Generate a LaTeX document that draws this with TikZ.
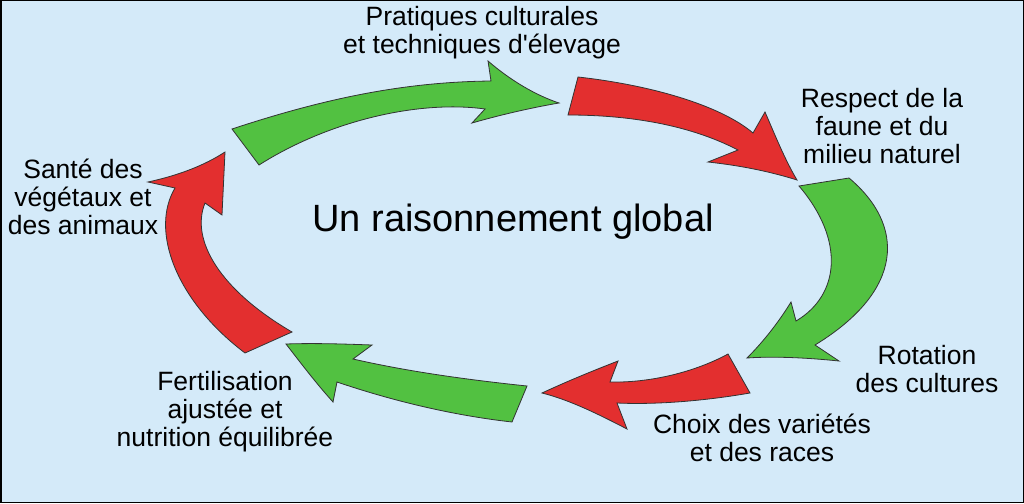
\documentclass[tikz,border=0pt]{standalone}
\usepackage{fontspec}
\setmainfont{Liberation Sans}
\definecolor{bgc}{HTML}{D4EAF9}
\definecolor{grn}{HTML}{52C141}
\definecolor{rd}{HTML}{E32F2F}
\definecolor{edge}{HTML}{333333}
\begin{document}
\begin{tikzpicture}[x=1pt,y=-1pt,
  garrow/.style={fill=grn,draw=edge,line width=0.8pt,line join=miter},
  rarrow/.style={fill=rd,draw=edge,line width=0.8pt,line join=miter},
  lbl/.style={font=\fontsize{26.5}{28}\selectfont,align=center,inner sep=0pt}]
\useasboundingbox (0,0) rectangle (1024,503);
\fill[bgc] (0,0) rectangle (1024,503);
\draw[black,line width=1.5pt] (0.75,0.75) rectangle (1023.25,502.25);
% arrow 1 green top
\path[garrow] (259,165) -- (232,129) .. controls (320,100) and (400,82) .. (491,81) -- (488,61) .. controls (510,80) and (535,95) .. (559,103) .. controls (530,108) and (500,115) .. (472,123) -- (485,109) .. controls (420,100) and (330,120) .. (259,165) -- cycle;
% arrow 2 red top right
\path[rarrow] (578,77) .. controls (650,85) and (720,105) .. (753,133) -- (765,112) .. controls (775,135) and (785,160) .. (797,180) .. controls (765,170) and (735,165) .. (708,162) -- (738,150) .. controls (690,125) and (630,115) .. (568,115) -- cycle;
% arrow 3 green right
\path[garrow] (799,186) -- (849,178) .. controls (905,225) and (905,290) .. (815,345) -- (839,361) .. controls (810,358) and (775,356) .. (747,358) .. controls (765,340) and (780,320) .. (791,302) -- (796,321) .. controls (840,295) and (845,240) .. (799,186) -- cycle;
% arrow 4 red bottom right
\path[rarrow] (728,354) -- (750,393) .. controls (710,400) and (660,405) .. (617,403) -- (627,429) .. controls (600,415) and (570,400) .. (542,393) .. controls (570,380) and (595,370) .. (618,361) -- (610,382) .. controls (650,383) and (695,372) .. (728,354) -- cycle;
% arrow 5 green bottom left
\path[garrow] (286,344) .. controls (315,343) and (345,344) .. (372,345) -- (353,359) .. controls (410,372) and (470,380) .. (527,386) -- (512,422) .. controls (450,415) and (390,400) .. (337,382) -- (333,402) .. controls (315,382) and (300,362) .. (286,344) -- cycle;
% arrow 6 red left
\path[rarrow] (292,332) -- (245,353) .. controls (175,300) and (150,230) .. (175,188) -- (148,182) .. controls (180,175) and (205,165) .. (225,152) -- (222,215) -- (205,203) .. controls (190,240) and (220,290) .. (292,332) -- cycle;
% labels
\node[lbl] (t1) at (482,33) {Pratiques culturales\\et techniques d\textquotesingle élevage};
\node[lbl] (t2) at (882,126) {Respect de la\\faune et du\\milieu naturel};
\node[lbl] (t3) at (927,369) {Rotation\\des cultures};
\node[lbl] (t4) at (762,438) {Choix des variétés\\et des races};
\node[lbl] (t5) at (225,412) {Fertilisation\\ajustée et\\nutrition équilibrée};
\node[lbl] (t6) at (83,197) {Santé des\\végétaux et\\des animaux};
\node[font=\fontsize{38}{42}\selectfont,inner sep=0pt] (title) at (513,222) {Un raisonnement global};
\end{tikzpicture}
\end{document}
